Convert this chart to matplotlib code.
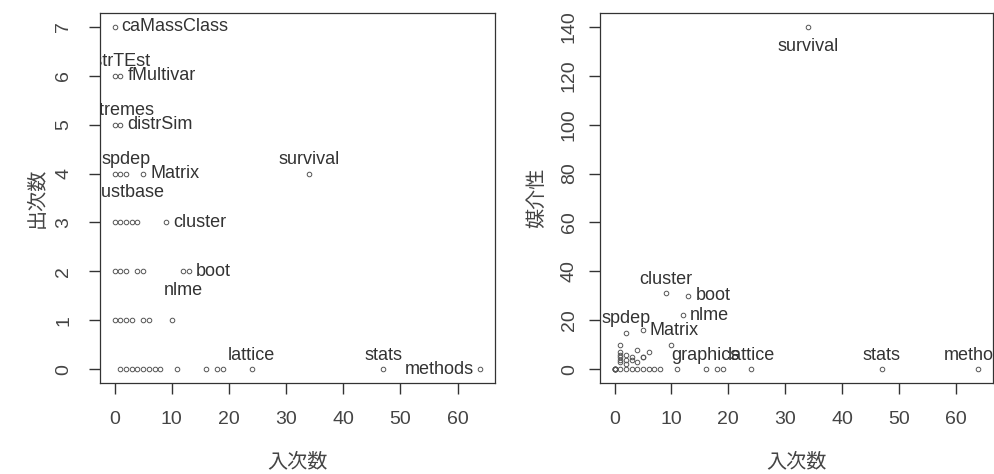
import numpy as np
import matplotlib
matplotlib.use("Agg")
from matplotlib import pyplot as plt
from matplotlib import font_manager

# package network: in-degree, out-degree, betweenness
names = ["caMassClass", "distrTEst", "fMultivar", "fExtremes", "distrSim",
         "spdep", "Matrix", "robustbase", "survival", "",
         "cluster", "", "", "", "", "",
         "boot", "nlme", "", "", "", "", "",
         "", "", "", "", "", "", "",
         "graphics", "lattice", "stats", "methods",
         "", "", "", "", "", "", "", "", "", "", ""]
indeg = [0, 0, 1, 0, 1,
         2, 5, 1, 34, 0,
         9, 0, 1, 2, 3, 4,
         13, 12, 0, 1, 2, 4, 5,
         0, 1, 2, 3, 5, 6, 10,
         16, 24, 47, 64,
         1, 2, 3, 4, 5, 6, 7, 8, 11, 18, 19]
outdeg = [7, 6, 6, 5, 5,
          4, 4, 4, 4, 4,
          3, 3, 3, 3, 3, 3,
          2, 2, 2, 2, 2, 2, 2,
          1, 1, 1, 1, 1, 1, 1,
          0, 0, 0, 0,
          0, 0, 0, 0, 0, 0, 0, 0, 0, 0, 0]
betw = [0, 0, 4, 0, 5,
        15, 16, 10, 140, 0,
        31, 0, 7, 6, 5, 3,
        30, 22, 0, 6, 4, 8, 5,
        0, 3, 2, 4, 5, 7, 10,
        0, 0, 0, 0,
        0, 0, 0, 0, 0, 0, 0, 0, 0, 0, 0]

# label side like R's pos: 1 below, 2 left, 3 above, 4 right
left_pos = {"caMassClass": 4, "distrTEst": 3, "fMultivar": 4, "fExtremes": 3,
            "distrSim": 4, "spdep": 3, "Matrix": 4, "robustbase": 1,
            "survival": 3, "cluster": 4, "boot": 4, "nlme": 1,
            "lattice": 3, "stats": 3, "methods": 2}
right_pos = {"survival": 1, "cluster": 3, "boot": 4, "nlme": 4, "spdep": 3,
             "Matrix": 4, "graphics": 3, "lattice": 3, "stats": 3, "methods": 3}

installed = {f.name for f in font_manager.fontManager.ttflist}
tick_font = "Liberation Sans Narrow" if "Liberation Sans Narrow" in installed else "Liberation Sans"
plt.rcParams["font.family"] = ["Liberation Sans", "DejaVu Sans"]

ink = "#333333"
offs = {1: (0, -14, "center", "center"), 2: (-5, 0, "right", "center"),
        3: (0, 10, "center", "center"), 4: (5, 0, "left", "center")}


def draw(ax, x, y, pos, ylab, yticks, ypad):
    ax.plot(x, y, "o", ms=3.3, mfc="none", mec="#555555", mew=0.7)
    for n, xi, yi in zip(names, x, y):
        if n in pos:
            dx, dy, ha, va = offs[pos[n]]
            ax.annotate(n, (xi, yi), xytext=(dx, dy), textcoords="offset points",
                        ha=ha, va=va, fontsize=13, color=ink, clip_on=True)
    ax.set_xlim(-2.56, 66.56)
    ax.set_xticks(range(0, 61, 10))
    ax.set_yticks(yticks)
    for s in ax.spines.values():
        s.set_color(ink)
        s.set_linewidth(0.9)
    ax.tick_params(direction="out", length=8, width=1.0, color=ink, labelcolor="#444444")
    ax.tick_params(axis="x", pad=12)
    ax.tick_params(axis="y", pad=ypad, labelrotation=90)
    for t in ax.get_xticklabels() + ax.get_yticklabels():
        t.set_fontfamily(tick_font)
        t.set_fontsize(14)
    for t in ax.get_yticklabels():
        t.set_va("center")
    ax.set_xlabel("入次数", family=["Noto Sans CJK JP", "DejaVu Sans"], fontsize=14.5,
                  color="#444444", va="center")
    ax.set_ylabel(ylab, family=["Noto Sans CJK JP", "DejaVu Sans"], fontsize=14.5,
                  color="#444444", va="center")
    ax.xaxis.set_label_coords(0.5, -0.212)
    ax.yaxis.set_label_coords(-0.16, 0.5)


fig = plt.figure(figsize=(9.95, 4.74), dpi=100)
ax1 = fig.add_axes([100 / 995, 91 / 474, 395 / 995, 370 / 474])
ax2 = fig.add_axes([600 / 995, 91 / 474, 393 / 995, 370 / 474])

draw(ax1, indeg, outdeg, left_pos, "出次数", range(0, 8), 12)
ax1.set_ylim(-0.28, 7.28)
draw(ax2, indeg, betw, right_pos, "媒介性", range(0, 141, 20), 8)
ax2.set_ylim(-5.6, 145.6)

fig.savefig("out.png", dpi=100)
